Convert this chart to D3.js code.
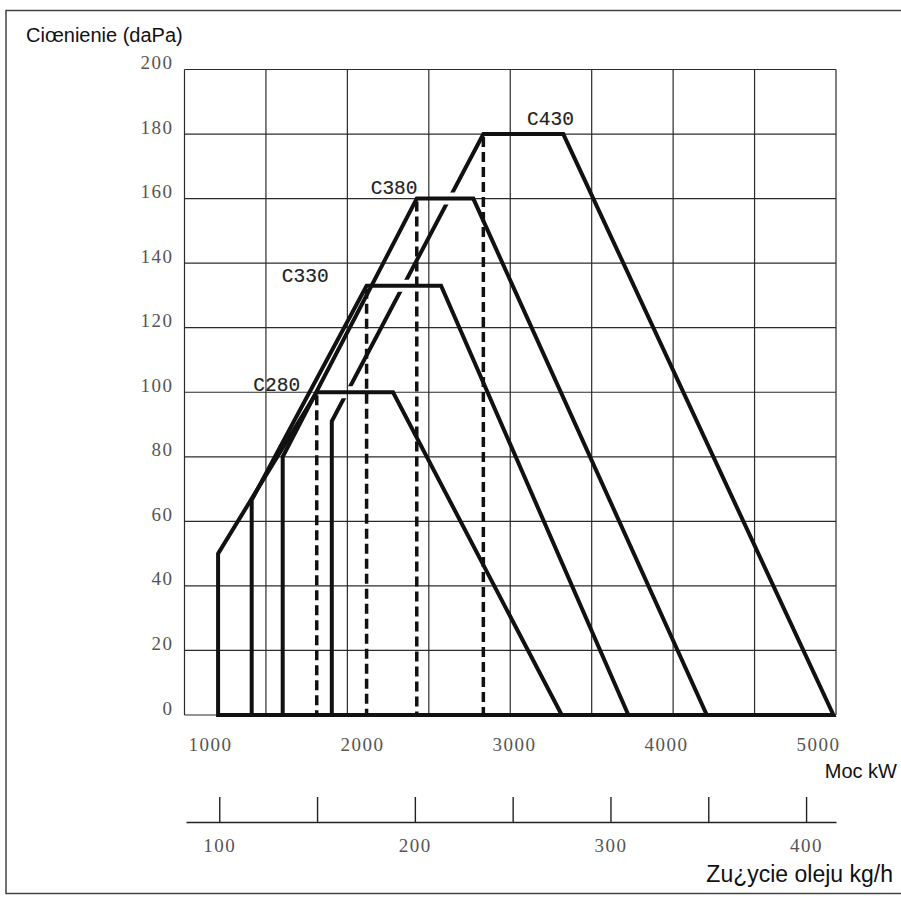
<!DOCTYPE html>
<meta charset="utf-8">
<style>
  body {
    margin: 0;
    background: #fff;
  }

  .grid line {
    stroke: #2b2b2b;
    stroke-width: 1.2px;
  }

  .burner {
    fill: none;
    stroke: #111;
    stroke-width: 4px;
  }

  .dash {
    stroke: #111;
    stroke-width: 3.5px;
    stroke-dasharray: 10, 5;
  }

  .axis path,
  .axis line {
    stroke: #222;
    stroke-width: 1.4px;
  }

  .axis text {
    font-family: "Liberation Serif", serif;
    font-size: 19px;
    fill: #555;
    letter-spacing: 1.5px;
  }

  .name {
    font-family: "Liberation Mono", monospace;
    font-size: 19.5px;
    fill: #222;
    stroke: #222;
    stroke-width: 0.15px;
  }

  .title {
    font-family: "Liberation Sans", Arial, sans-serif;
    fill: #111;
  }

</style>
<svg width="901" height="904"></svg>
<script src="https://d3js.org/d3.v7.min.js"></script>
<script>
  // Values
  var powerTicks = [1000, 2000, 3000, 4000, 5000];
  var pressureTicks = [0, 20, 40, 60, 80, 100, 120, 140, 160, 180, 200];
  var oilTicks = [100, 150, 200, 250, 300, 350, 400];
  var oilLabels = [100, 200, 300, 400];

  var burners = ["C280", "C330", "C380", "C430"];
  // outline of each working field: min, knee, start of max, end of max, max power
  var powerKw = [
    [1053, 1053, 1702, 2204, 3314],
    [1274, 1274, 2030, 2520, 3752],
    [1478, 1478, 2360, 2732, 4268],
    [1801, 1801, 2798, 3324, 5101]
  ];
  var pressureDaPa = [
    [0, 50, 100, 100, 0],
    [0, 66.6, 133, 133, 0],
    [0, 80, 160, 160, 0],
    [0, 91, 180, 180, 0]
  ];
  var labelKw = [1285, 1472, 2057, 3086];
  var labelDaPa = [100.5, 134.3, 161.4, 182.8];

  var svg = d3.select("svg");
  var margin = {
      top: 69.5,
      right: 65,
      bottom: 189,
      left: 184.5
    },
    width = +svg.attr("width") - margin.left - margin.right,
    height = +svg.attr("height") - margin.top - margin.bottom;

  // Set the ranges
  var x = d3
    .scaleLinear()
    .domain([832, 5118])
    .range([0, width]);
  var y = d3
    .scaleLinear()
    .domain([0, 200])
    .range([height, 0]);
  var oil = d3
    .scaleLinear()
    .domain([83, 415.3])
    .range([1.5, width]);

  var outline = d3
    .line()
    .x(function (d) {
      return x(d[0]);
    })
    .y(function (d) {
      return y(d[1]);
    });

  var burnerData = burners.map(function (name, i) {
    return {
      name: name,
      points: powerKw[i].map(function (p, j) {
        return [p, pressureDaPa[i][j]];
      }),
      label: [labelKw[i], labelDaPa[i]]
    };
  });
  var last = burnerData.length - 1;

  // page frame
  svg
    .append("rect")
    .attr("x", 6)
    .attr("y", 10.5)
    .attr("width", 902)
    .attr("height", 883)
    .attr("fill", "none")
    .attr("stroke", "#444")
    .attr("stroke-width", 1.5);

  var focus = svg
    .append("g")
    .attr("transform", "translate(" + margin.left + "," + margin.top + ")");

  // the biggest field is broken where it crosses the tops of the others
  var mask = svg
    .append("defs")
    .append("mask")
    .attr("id", "crossing")
    .attr("maskUnits", "userSpaceOnUse")
    .attr("x", -margin.left)
    .attr("y", -margin.top)
    .attr("width", +svg.attr("width"))
    .attr("height", +svg.attr("height"));

  mask
    .append("rect")
    .attr("x", -margin.left)
    .attr("y", -margin.top)
    .attr("width", +svg.attr("width"))
    .attr("height", +svg.attr("height"))
    .attr("fill", "#fff");

  mask
    .selectAll("path")
    .data(burnerData.slice(0, last))
    .enter()
    .append("path")
    .attr("d", function (d) {
      return outline(d.points.slice(2, 4));
    })
    .attr("stroke", "#000")
    .attr("stroke-width", 12)
    .attr("fill", "none");

  // grid
  var grid = focus
    .append("g")
    .attr("class", "grid");

  grid
    .selectAll(".hgrid")
    .data(pressureTicks)
    .enter()
    .append("line")
    .attr("x1", 0)
    .attr("x2", width)
    .attr("y1", function (d) {
      return y(d);
    })
    .attr("y2", function (d) {
      return y(d);
    });

  var gridCols = 8;
  grid
    .selectAll(".vgrid")
    .data(d3.range(gridCols + 1))
    .enter()
    .append("line")
    .attr("x1", function (i) {
      return i * width / gridCols;
    })
    .attr("x2", function (i) {
      return i * width / gridCols;
    })
    .attr("y1", 0)
    .attr("y2", height);

  // working fields
  focus
    .append("path")
    .attr("class", "burner")
    .attr("mask", "url(#crossing)")
    .attr("d", outline(burnerData[last].points) + "Z");

  focus
    .selectAll(".burner-small")
    .data(burnerData.slice(0, last))
    .enter()
    .append("path")
    .attr("class", "burner")
    .attr("d", function (d) {
      return outline(d.points) + "Z";
    });

  focus
    .selectAll(".dash")
    .data(burnerData)
    .enter()
    .append("line")
    .attr("class", "dash")
    .attr("x1", function (d) {
      return x(d.points[2][0]);
    })
    .attr("x2", function (d) {
      return x(d.points[2][0]);
    })
    .attr("y1", function (d) {
      return y(d.points[2][1]) + 3;
    })
    .attr("y2", y(0));

  focus
    .selectAll(".name")
    .data(burnerData)
    .enter()
    .append("text")
    .attr("class", "name")
    .attr("x", function (d) {
      return x(d.label[0]);
    })
    .attr("y", function (d) {
      return y(d.label[1]);
    })
    .text(function (d) {
      return d.name;
    });

  // axes
  focus
    .append("g")
    .attr("class", "axis axis--y")
    .call(d3.axisLeft(y).tickValues(pressureTicks).tickSize(0).tickPadding(11))
    .call(function (g) {
      g.select(".domain").remove();
    })
    .selectAll("text")
    .attr("dy", -1);

  focus
    .append("g")
    .attr("class", "axis axis--x")
    .attr("transform", "translate(0," + height + ")")
    .call(d3.axisBottom(x).tickValues(powerTicks).tickSize(0).tickFormat(d3.format("d")))
    .call(function (g) {
      g.select(".domain").remove();
    })
    .selectAll("text")
    .attr("y", 36)
    .attr("dy", null);

  var oilAxis = svg
    .append("g")
    .attr("class", "axis axis--oil")
    .attr("transform", "translate(" + margin.left + ",822)");

  oilAxis
    .append("g")
    .call(d3.axisTop(oil).tickValues(oilTicks).tickSize(25).tickSizeOuter(0).tickFormat(""));

  oilAxis
    .append("g")
    .call(d3.axisBottom(oil).tickValues(oilLabels).tickSize(0).tickFormat(d3.format("d")))
    .call(function (g) {
      g.select(".domain").remove();
    })
    .selectAll("text")
    .attr("y", 30)
    .attr("dy", null);

  // titles
  svg
    .append("text")
    .attr("class", "title")
    .attr("x", 26)
    .attr("y", 42)
    .attr("font-size", 20)
    .text("Ciœnienie (daPa)");

  svg
    .append("text")
    .attr("class", "title")
    .attr("x", 897)
    .attr("y", 778)
    .attr("text-anchor", "end")
    .attr("font-size", 20)
    .text("Moc kW");

  svg
    .append("text")
    .attr("class", "title")
    .attr("x", 893)
    .attr("y", 882)
    .attr("text-anchor", "end")
    .attr("font-size", 23)
    .text("Zu¿ycie oleju kg/h");

</script>
